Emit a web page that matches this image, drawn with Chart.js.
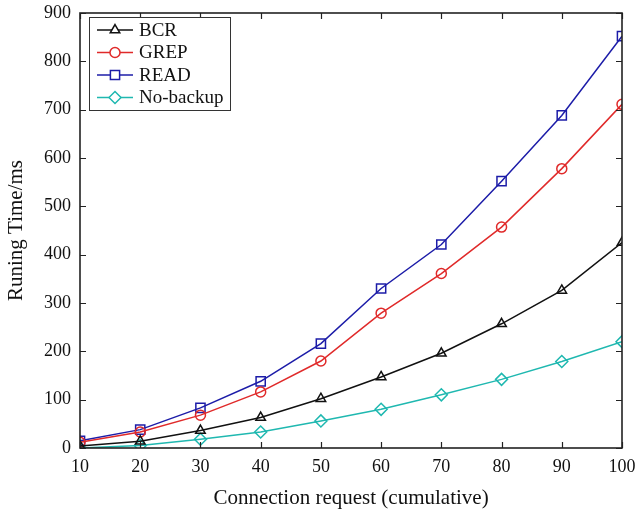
<!DOCTYPE html>
<html>
<head>
<meta charset="utf-8">
<script src="https://cdn.jsdelivr.net/npm/chart.js@4/dist/chart.umd.min.js"></script>
<style>
  html, body { margin: 0; padding: 0; background: #fff; }
  #wrap { width: 637px; height: 513px; }
</style>
</head>
<body>
<div id="wrap"><canvas id="chart" width="637" height="513"></canvas></div>
<script>
// 연결 요청 수 (누적)
const requests = [10, 20, 30, 40, 50, 60, 70, 80, 90, 100];
// 각 방식별 실행 시간 (ms)
const bcr      = [4, 14, 36, 63, 102, 147, 196, 257, 326, 425];
const grep     = [12, 33, 68, 116, 180, 279, 361, 457, 578, 711];
const read     = [15, 38, 83, 138, 216, 330, 421, 552, 688, 852];
const noBackup = [0, 5, 18, 33, 56, 80, 110, 142, 179, 220];

const seriesNames = ['BCR', 'GREP', 'READ', 'No-backup'];
const yTicks = [0, 100, 200, 300, 400, 500, 600, 700, 800, 900];

const serif = '"Liberation Serif", "DejaVu Serif", serif';

function toPoints(values) {
  return values.map((v, i) => ({ x: requests[i], y: v }));
}

function makeSet(label, values, color, style, r) {
  return {
    label: label,
    data: toPoints(values),
    borderColor: color,
    backgroundColor: 'rgba(0,0,0,0)',
    borderWidth: 1.5,
    pointStyle: style,
    pointRadius: r,
    pointBorderColor: color,
    pointBackgroundColor: 'rgba(0,0,0,0)',
    pointBorderWidth: 1.5,
    tension: 0,
    fill: false
  };
}

// 안쪽 눈금 + 테두리
const frameTicks = {
  id: 'frameTicks',
  afterDraw(chart) {
    const ctx = chart.ctx;
    const a = chart.chartArea;
    const xs = chart.scales.x, ys = chart.scales.y;
    const len = 6;
    ctx.save();
    ctx.strokeStyle = '#222';
    ctx.lineWidth = 1.2;
    ctx.beginPath();
    xs.ticks.forEach(t => {
      const px = Math.round(xs.getPixelForValue(t.value)) + 0.5;
      ctx.moveTo(px, a.bottom); ctx.lineTo(px, a.bottom - len);
      ctx.moveTo(px, a.top); ctx.lineTo(px, a.top + len);
    });
    ys.ticks.forEach(t => {
      const py = Math.round(ys.getPixelForValue(t.value)) + 0.5;
      ctx.moveTo(a.left, py); ctx.lineTo(a.left + len, py);
      ctx.moveTo(a.right, py); ctx.lineTo(a.right - len, py);
    });
    ctx.stroke();
    ctx.lineWidth = 1.6;
    ctx.strokeRect(a.left, a.top, a.right - a.left, a.bottom - a.top);
    ctx.restore();
  }
};

// 그래프 안쪽 범례 상자
const boxLegend = {
  id: 'boxLegend',
  afterDraw(chart) {
    const ctx = chart.ctx;
    const a = chart.chartArea;
    const x0 = a.left + 9, y0 = a.top + 4;
    const w = 141, h = 93;
    ctx.save();
    ctx.fillStyle = '#fff';
    ctx.fillRect(x0, y0, w, h);
    ctx.strokeStyle = '#333';
    ctx.lineWidth = 1;
    ctx.strokeRect(x0 + 0.5, y0 + 0.5, w, h);
    chart.data.datasets.forEach((ds, i) => {
      const cy = y0 + 13 + i * 22.5;
      ctx.strokeStyle = ds.borderColor;
      ctx.lineWidth = 1.5;
      ctx.beginPath();
      ctx.moveTo(x0 + 8, cy);
      ctx.lineTo(x0 + 44, cy);
      ctx.stroke();
      ctx.fillStyle = '#fff';
      ctx.strokeStyle = ds.borderColor;
      Chart.helpers.drawPoint(ctx, {
        pointStyle: ds.pointStyle,
        radius: ds.pointRadius,
        rotation: 0,
        borderWidth: 1.5
      }, x0 + 26, cy);
      ctx.fillStyle = '#111';
      ctx.font = '19px ' + serif;
      ctx.textBaseline = 'middle';
      ctx.textAlign = 'left';
      ctx.fillText(ds.label, x0 + 50, cy + 1);
    });
    ctx.restore();
  }
};

const datasets = [
  makeSet(seriesNames[0], bcr, '#111111', 'triangle', 5.5),
  makeSet(seriesNames[1], grep, '#e02a2a', 'circle', 5),
  makeSet(seriesNames[2], read, '#1c1ca8', 'rect', 6.5),
  makeSet(seriesNames[3], noBackup, '#1fb8b0', 'rectRot', 6)
];

new Chart(document.getElementById('chart'), {
  type: 'line',
  data: { datasets: datasets },
  options: {
    responsive: false,
    animation: false,
    layout: { padding: { top: 13, right: 15, left: 0, bottom: 0 } },
    plugins: {
      legend: { display: false },
      tooltip: { enabled: false }
    },
    scales: {
      x: {
        type: 'linear',
        min: 10,
        max: 100,
        grid: { display: false, drawTicks: false },
        border: { display: false },
        ticks: {
          stepSize: 10,
          padding: 8,
          color: '#111',
          font: { family: serif, size: 18 }
        },
        title: {
          display: true,
          text: 'Connection request (cumulative)',
          color: '#111',
          font: { family: serif, size: 21 },
          padding: { top: 0, bottom: 2 }
        },
        afterFit(scale) {
          scale.height = 65;
          scale.paddingLeft = 0;
          scale.paddingRight = 0;
        }
      },
      y: {
        min: 0,
        max: 900,
        grid: { display: false, drawTicks: false },
        border: { display: false },
        afterBuildTicks(scale) { scale.ticks = yTicks.map(v => ({ value: v })); },
        ticks: {
          padding: 9,
          color: '#111',
          font: { family: serif, size: 18 }
        },
        title: {
          display: true,
          text: 'Runing Time/ms',
          color: '#111',
          font: { family: serif, size: 21 },
          padding: { top: 4, bottom: 0 }
        },
        afterFit(scale) {
          scale.width = 80;
          scale.paddingTop = 0;
          scale.paddingBottom = 0;
        }
      }
    }
  },
  plugins: [frameTicks, boxLegend]
});
</script>
</body>
</html>
